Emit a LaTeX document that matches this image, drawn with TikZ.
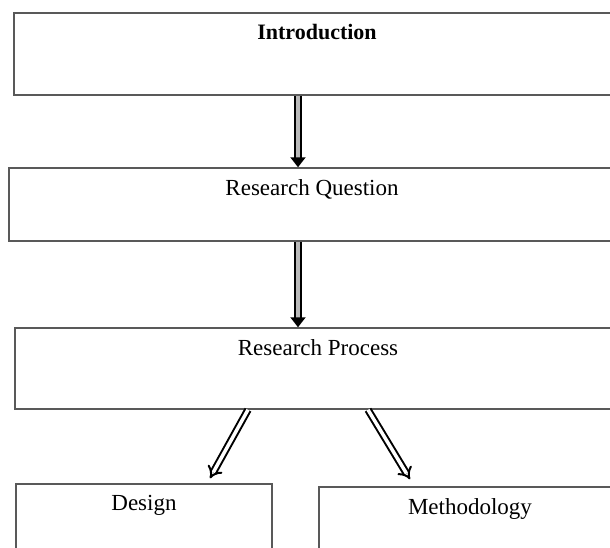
\documentclass[tikz,border=0pt]{standalone}
\usepackage{fontspec}
\setmainfont{Liberation Serif}
\usetikzlibrary{arrows.meta}
\tikzset{
  stagebox/.style={draw=black!65, line width=1.5pt, minimum width=606pt, minimum height=#1, inner sep=0pt},
  stagetext/.style={anchor=north, inner sep=0pt, yshift=-12pt, font=\fontsize{23}{26}\selectfont},
  downarrow/.style={draw=black, line width=2pt, double=gray!55, double distance=4pt, -{Triangle[width=15pt,length=10pt]}},
  sidearrow/.style={draw=black, line width=2pt, double=white, double distance=3.5pt, -{Implies[scale=1.3]}},
}

\begin{document}
\begin{tikzpicture}[x=1pt, y=-1pt]
\useasboundingbox (0,0) rectangle (610,547);
\clip (0,0) rectangle (610,547);
\node[stagebox=82pt, label={[stagetext, font=\fontsize{22}{26}\selectfont\bfseries]north:Introduction}] (intro) at (317,54) {};
\node[stagebox=73pt, label={[stagetext]north:Research Question}] (rq) at (312,204.5) {};
\node[stagebox=81pt, label={[stagetext]north:Research Process}] (rp) at (318,368.5) {};
\node[stagebox=120pt, minimum width=256pt, label={[stagetext]north:Design}] (design) at (144,544) {};
\node[stagebox=120pt, minimum width=302pt, label={[stagetext]north:Methodology}] (meth) at (470,547) {};
\coordinate (axis) at (298,0);
\draw[downarrow] (intro.south -| axis) -- (rq.north -| axis);
\draw[downarrow] (rq.south -| axis) -- (rp.north -| axis);
\draw[sidearrow] ([xshift=-70pt]rp.south) -- ([xshift=66pt,yshift=5pt]design.north);
\draw[sidearrow] ([xshift=50pt]rp.south) -- ([xshift=-60pt,yshift=7pt]meth.north);
\end{tikzpicture}
\end{document}
